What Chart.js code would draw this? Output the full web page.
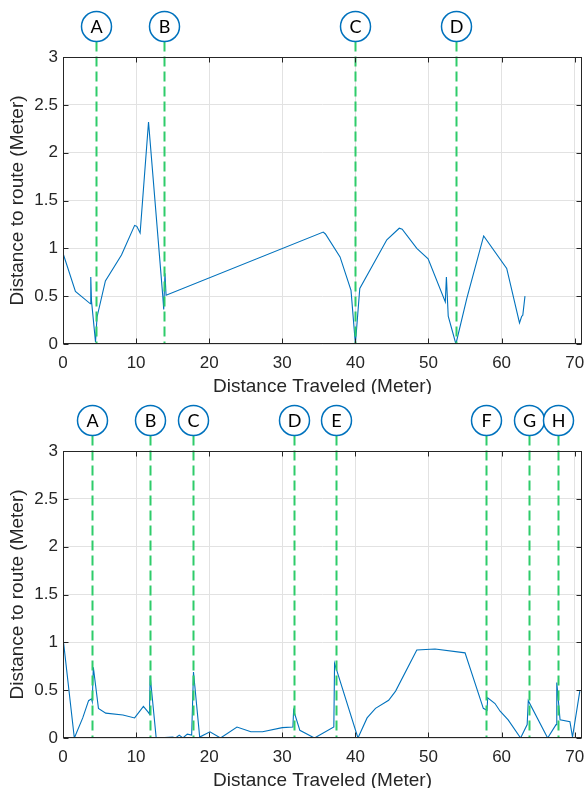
<!DOCTYPE html>
<html>
<head>
<meta charset="utf-8">
<script src="https://cdn.jsdelivr.net/npm/chart.js@4/dist/chart.umd.min.js"></script>
<style>
body { margin: 0; background: #fff; }
canvas { display: block; }
</style>
</head>
<body>
<canvas id="topchart" width="585" height="394"></canvas>
<canvas id="botchart" width="585" height="394"></canvas>
<script>
// run 1 (top) : distance travelled vs distance to route
const topDist = [0, 1.7, 3.75, 3.8, 3.9, 4.45, 4.65, 5.8, 8.0, 9.8, 10.1, 10.55, 11.7,
    13.65, 13.78, 13.95, 14.1, 35.6, 35.9, 37.9, 39.4, 40.0, 40.6, 44.3, 46.0, 46.4,
    48.4, 49.1, 49.95, 52.3, 52.45, 52.7, 53.75, 55.25, 57.55, 60.7, 62.45, 62.75, 62.9, 63.2];
const topErr = [0.95, 0.55, 0.42, 0.70, 0.45, 0.02, 0.28, 0.66, 0.93, 1.24, 1.23, 1.16, 2.32,
    0.50, 0.36, 0.74, 0.51, 1.17, 1.15, 0.91, 0.56, 0.0, 0.58, 1.09, 1.21, 1.20,
    1.0, 0.95, 0.89, 0.44, 0.70, 0.29, 0.0, 0.48, 1.13, 0.79, 0.22, 0.29, 0.30, 0.50];
const topMarkerLabels = ["A", "B", "C", "D"];
const topMarkerX = [4.45, 13.75, 40.0, 53.7];

// run 2 (bottom)
const botDist = [0, 1.55, 2.7, 3.5, 3.9, 4.0, 4.15, 4.85, 5.85, 8.2, 9.8, 11.0, 11.65, 11.83,
    11.92, 12.75, 15.0, 15.4, 15.9, 16.4, 17.0, 17.6, 17.85, 18.7, 20.1, 21.55, 23.8,
    25.7, 27.3, 30.0, 31.45, 31.55, 32.4, 34.4, 37.05, 37.15, 40.35, 41.6, 42.75,
    44.55, 45.5, 48.4, 50.9, 55.0, 57.5, 58.0, 58.1, 59.1, 59.8, 60.9, 62.6, 63.5,
    63.65, 66.3, 67.45, 67.55, 68.0, 69.35, 69.7, 70.7];
const botErr = [1.05, 0.0, 0.21, 0.39, 0.41, 0.38, 0.74, 0.31, 0.26, 0.24, 0.21, 0.33, 0.27, 0.25,
    0.65, 0.0, 0.01, 0.0, 0.03, 0.0, 0.04, 0.03, 0.69, 0.01, 0.065, 0.0, 0.115,
    0.066, 0.065, 0.108, 0.115, 0.29, 0.08, 0.0, 0.115, 0.78, 0.0, 0.21, 0.31,
    0.395, 0.49, 0.92, 0.93, 0.89, 0.31, 0.29, 0.42, 0.36, 0.28, 0.19, 0.0, 0.14,
    0.39, 0.0, 0.14, 0.58, 0.19, 0.17, 0.01, 0.49];
const botMarkerLabels = ["A", "B", "C", "D", "E", "F", "G", "H"];
const botMarkerX = [4.0, 11.95, 17.85, 31.55, 37.3, 57.9, 63.7, 67.7];

const xMin = 0, xMax = 71, xStep = 10;
const yMin = 0, yMax = 3, yStep = 0.5;

const axisColor = "#262626";
const lineBlue = "#0072BD";
const dashGreen = "#2ecc6a";

// matlab-ish box, inward ticks and the lettered markers
const matlabAxes = {
    id: "matlabAxes",
    beforeDraw(chart) {
        const ctx = chart.ctx;
        ctx.save();
        ctx.fillStyle = "#fff";
        ctx.fillRect(0, 0, chart.width, chart.height);
        ctx.restore();
    },
    afterDatasetsDraw(chart, args, opts) {
        const ctx = chart.ctx;
        const a = chart.chartArea;
        const xs = chart.scales.x, ys = chart.scales.y;
        const cy = opts.circleY, r = 15;
        ctx.save();

        // dashed event lines
        ctx.strokeStyle = dashGreen;
        ctx.lineWidth = 2;
        ctx.setLineDash([10, 5]);
        opts.markerX.forEach(v => {
            const px = Math.round(xs.getPixelForValue(v)) + 0.5;
            ctx.beginPath();
            ctx.moveTo(px, cy + r);
            ctx.lineTo(px, a.bottom);
            ctx.stroke();
        });
        ctx.setLineDash([]);

        // box
        const L = Math.round(a.left) + 0.5, R = Math.round(a.right) - 0.5;
        const T = Math.round(a.top) + 0.5, B = Math.round(a.bottom) - 0.5;
        ctx.strokeStyle = axisColor;
        ctx.lineWidth = 1;
        ctx.strokeRect(L, T, R - L, B - T);

        // inward ticks
        const tl = 5;
        ctx.beginPath();
        xs.ticks.forEach(t => {
            const px = Math.round(xs.getPixelForValue(t.value)) + 0.5;
            ctx.moveTo(px, B); ctx.lineTo(px, B - tl);
            ctx.moveTo(px, T); ctx.lineTo(px, T + tl);
        });
        ys.ticks.forEach(t => {
            const py = Math.round(ys.getPixelForValue(t.value)) + 0.5;
            ctx.moveTo(L, py); ctx.lineTo(L + tl, py);
            ctx.moveTo(R, py); ctx.lineTo(R - tl, py);
        });
        ctx.stroke();

        // circles with letters
        opts.markerX.forEach((v, i) => {
            const px = Math.round(xs.getPixelForValue(v)) + 0.5;
            ctx.beginPath();
            ctx.arc(px, cy, r, 0, Math.PI * 2);
            ctx.fillStyle = "#fff";
            ctx.fill();
            ctx.strokeStyle = lineBlue;
            ctx.lineWidth = 1.5;
            ctx.stroke();
            ctx.fillStyle = "#000";
            ctx.font = "18px Lato, 'Open Sans', sans-serif";
            ctx.textAlign = "center";
            ctx.textBaseline = "middle";
            ctx.fillText(opts.markerLabels[i], px, cy + 1);
        });
        ctx.restore();
    }
};

function makeChart(id, dist, err, markerLabels, markerX) {
    const pts = dist.map((d, i) => ({ x: d, y: err[i] }));
    const font = { family: "'Liberation Sans', Arial, sans-serif", size: 17 };
    return new Chart(id, {
        type: "line",
        data: {
            datasets: [{
                data: pts,
                borderColor: lineBlue,
                borderWidth: 1.1,
                pointRadius: 0,
                tension: 0,
                fill: false
            }]
        },
        options: {
            responsive: false,
            animation: false,
            events: [],
            layout: { padding: { top: 57, right: 3, left: 0, bottom: 0 } },
            plugins: {
                legend: { display: false },
                tooltip: { enabled: false },
                matlabAxes: { markerX: markerX, markerLabels: markerLabels, circleY: 26.5 }
            },
            scales: {
                x: {
                    type: "linear",
                    min: xMin, max: xMax,
                    ticks: { stepSize: xStep, includeBounds: false, color: axisColor, font: font, padding: 9, maxRotation: 0 },
                    grid: { color: "#e2e2e2", drawTicks: false },
                    border: { display: false },
                    title: {
                        display: true, text: "Distance Traveled (Meter)", color: axisColor,
                        font: { family: font.family, size: 19, lineHeight: 0.8 },
                        padding: { top: 0, bottom: 0 }
                    },
                    afterFit(s) { s.height = 50; s.paddingLeft = 0; s.paddingRight = 0; }
                },
                y: {
                    min: yMin, max: yMax,
                    ticks: {
                        stepSize: yStep, color: axisColor, font: font, padding: 5,
                        callback: v => String(Math.round(v * 10) / 10)
                    },
                    grid: { color: "#e2e2e2", drawTicks: false },
                    border: { display: false },
                    title: {
                        display: true, text: "Distance to route (Meter)", color: axisColor,
                        font: { family: font.family, size: 19 },
                        padding: { top: 6, bottom: 0 }
                    },
                    afterFit(s) { s.width = 63; s.paddingTop = 0; s.paddingBottom = 0; }
                }
            }
        },
        plugins: [matlabAxes]
    });
}

makeChart("topchart", topDist, topErr, topMarkerLabels, topMarkerX);
makeChart("botchart", botDist, botErr, botMarkerLabels, botMarkerX);
</script>
</body>
</html>
